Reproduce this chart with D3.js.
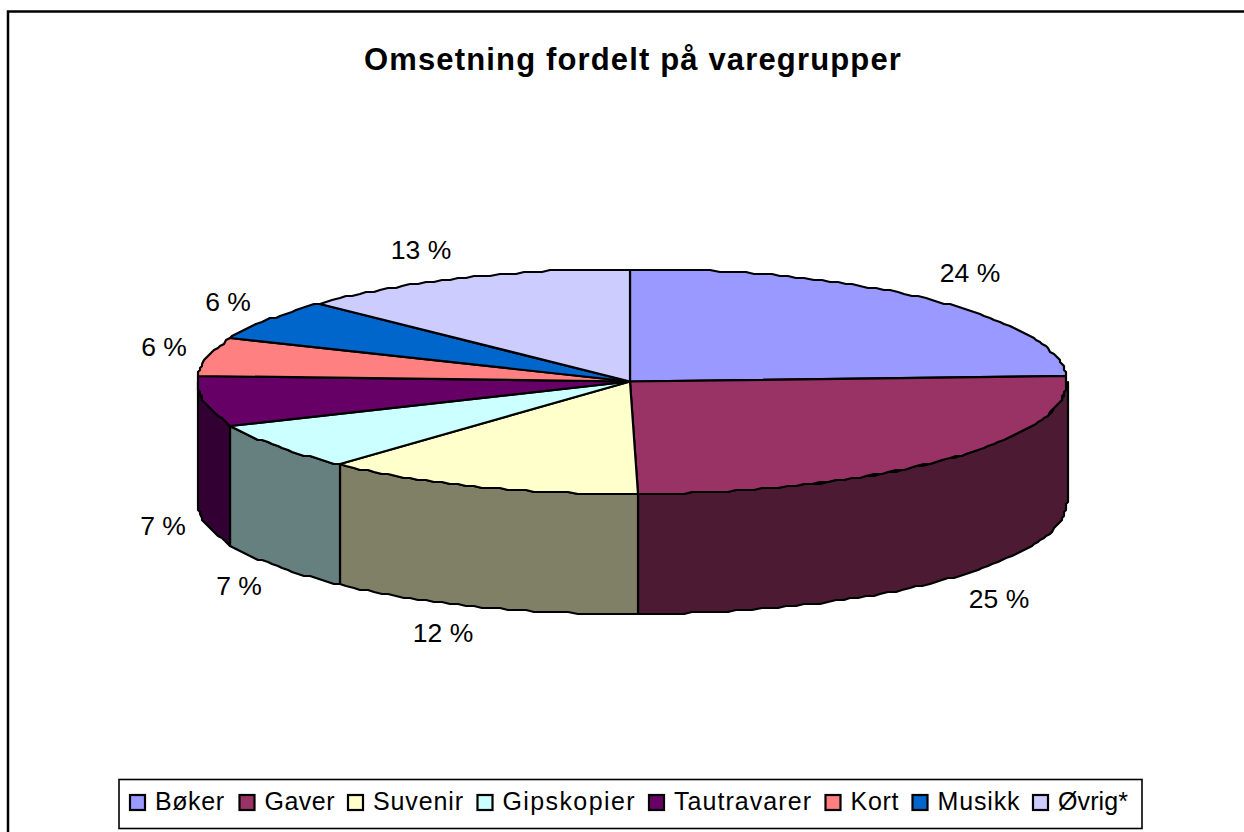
<!DOCTYPE html>
<html><head><meta charset="utf-8">
<script src="https://cdn.jsdelivr.net/npm/d3@7/dist/d3.min.js"></script>
<style>html,body{margin:0;padding:0;background:#fff}svg{display:block}</style>
</head><body><svg id="c" width="1244" height="832"></svg>
<script>
const title = "Omsetning fordelt på varegrupper";
const categories = ["Bøker","Gaver","Suvenir","Gipskopier","Tautravarer","Kort","Musikk","Øvrig*"];
const shares = [24.33,25.49,11.97,6.95,7.02,5.5,6.09,12.65];
const colors = ["#9999FF","#993366","#FFFFCC","#CCFFFF","#660066","#FF8080","#0066CC","#CCCCFF"];
const wallColors = ["#4D4D80","#4D1A33","#808066","#668080","#330033","#804040","#003366","#666680"];
const labelPos = [[970,272],[999,598],[443,632],[239,585],[163,525],[164,346],[228,301],[421,249]];
const legendX = [130,239.5,348,477.5,649,825.5,912.5,1033];
const legendTextWidth = [69,70,90,132,137,48,82,70];

const font = "Liberation Sans, Arial, sans-serif";
const svg = d3.select("#c");
svg.append("path").attr("d","M8,832V11.5H1244").attr("fill","none").attr("stroke","#000").attr("stroke-width",2.5);
svg.append("text").attr("x",633).attr("y",70).attr("text-anchor","middle")
  .attr("font-family",font).attr("font-weight","bold").attr("font-size",31).attr("letter-spacing",1.15).attr("fill","#000").text(title);

const cx=632, cy=381.5, rx=435, ry=112.5, depth=120, rot=-0.0046;
const px = d3.scaleLinear().domain([-1,1]).range([cx-rx,cx+rx]);
const py = d3.scaleLinear().domain([-1,1]).range([cy-ry,cy+ry]);
const pie = d3.pie().sort(null).value(d=>d).startAngle(rot).endAngle(2*Math.PI+rot)(shares);
const sx = a=>Math.round(px(Math.sin(a))/2)*2;
const sy = (a,o=0)=>Math.round(py(-Math.cos(a))/2)*2+o;
const arcPts=(a0,a1,o=0)=>{
  const n=Math.max(2,Math.ceil((a1-a0)*rx/9));
  return d3.range(n+1).map(i=>{const a=a0+(a1-a0)*i/n;return [sx(a),sy(a,o)];});
};
const line=d3.line();
const H=Math.PI/2, TH=3*Math.PI/2;
const g=svg.append("g").attr("stroke","#000").attr("stroke-width",2.2).attr("stroke-linejoin","round");
pie.forEach((d,i)=>{
  const a0=Math.max(d.startAngle,H), a1=Math.min(d.endAngle,TH);
  if(a1<=a0) return;
  const top=arcPts(a0,a1), bot=arcPts(a0,a1,depth).reverse();
  g.append("path").attr("d",line(top.concat(bot))+"Z").attr("fill",wallColors[i]);
});
pie.forEach((d,i)=>{
  const pts=[[px(0)-2,py(0)]].concat(arcPts(d.startAngle,d.endAngle));
  g.append("path").attr("d",line(pts)+"Z").attr("fill",colors[i]);
});
svg.append("g").selectAll("text").data(pie).join("text")
  .attr("x",(d,i)=>labelPos[i][0]).attr("y",(d,i)=>labelPos[i][1]+10)
  .attr("text-anchor","middle").attr("font-family",font).attr("font-size",26.5).attr("fill","#000")
  .text(d=>Math.round(d.data)+" %");
const lg=svg.append("g");
lg.append("rect").attr("x",119).attr("y",779.5).attr("width",1023).attr("height",49).attr("fill","#fff").attr("stroke","#000").attr("stroke-width",1.6);
const it=lg.selectAll("g").data(categories).join("g");
it.append("rect").attr("x",(d,i)=>legendX[i]).attr("y",795).attr("width",15).attr("height",15)
  .attr("fill",(d,i)=>colors[i]).attr("stroke","#000").attr("stroke-width",2.2);
it.append("text").attr("x",(d,i)=>legendX[i]+25).attr("y",810).attr("font-family",font).attr("font-size",25)
  .attr("textLength",(d,i)=>legendTextWidth[i]).attr("lengthAdjust","spacing").attr("fill","#000").text(d=>d);
</script></body></html>
